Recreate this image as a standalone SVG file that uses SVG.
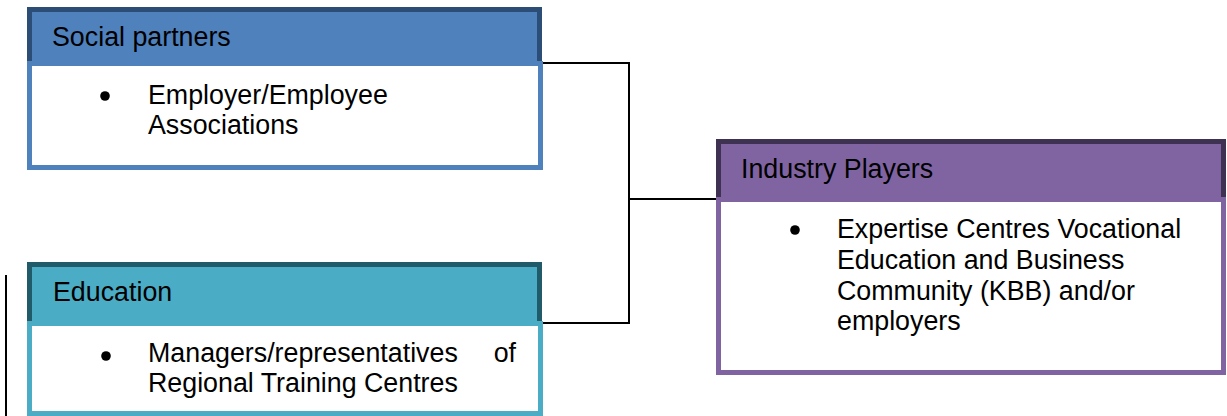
<svg xmlns="http://www.w3.org/2000/svg" width="1227" height="416" viewBox="0 0 1227 416">
<style>
text{font-family:"Liberation Sans",Arial,sans-serif;font-size:26.8px;fill:#000}
.hd{stroke-width:5}
.bd{fill:#fff;stroke-width:5}
.conn{fill:none;stroke:#000;stroke-width:2}
</style>
<rect width="1227" height="416" fill="#fff"/>
<g id="connectors">
<polyline class="conn" points="540,63 629,63 629,323 540,323"/>
<line class="conn" x1="629" y1="199" x2="719" y2="199"/>
<line class="conn" x1="6" y1="275" x2="6" y2="416"/>
</g>
<g id="social">
<rect class="hd" x="29.5" y="9.5" width="510" height="54" fill="#4f81bd" stroke="#2c4d75"/>
<rect class="bd" x="29.5" y="63.5" width="511" height="104" stroke="#4f81bd"/>
<text x="52" y="46">Social partners</text>
<circle cx="105" cy="96" r="4.8" fill="#000"/>
<text x="148" y="104">Employer/Employee</text>
<text x="148" y="134">Associations</text>
</g>
<g id="education">
<rect class="hd" x="29.5" y="264.5" width="510" height="59" fill="#4bacc6" stroke="#215a69"/>
<rect class="bd" x="29.5" y="323.5" width="511" height="90" stroke="#4bacc6"/>
<text x="53" y="301">Education</text>
<circle cx="106" cy="356" r="4.8" fill="#000"/>
<text x="148" y="362">Managers/representatives</text>
<text x="516" y="362" text-anchor="end">of</text>
<text x="148" y="392">Regional Training Centres</text>
</g>
<g id="industry">
<rect class="hd" x="718.5" y="141.5" width="505" height="58" fill="#8064a2" stroke="#3f3151"/>
<rect class="bd" x="718.5" y="199.5" width="505" height="173" stroke="#8064a2"/>
<text x="741" y="178">Industry Players</text>
<circle cx="795" cy="230" r="4.8" fill="#000"/>
<text x="837" y="238">Expertise Centres Vocational</text>
<text x="837" y="269">Education and Business</text>
<text x="837" y="300">Community (KBB) and/or</text>
<text x="837" y="330">employers</text>
</g>
</svg>
